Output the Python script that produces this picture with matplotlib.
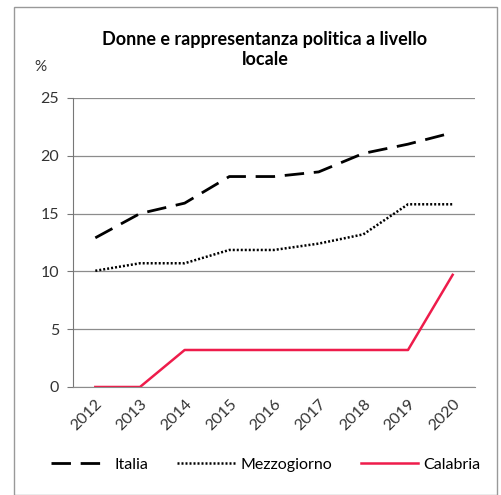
import matplotlib.pyplot as plt
from matplotlib.patches import Rectangle

anni = ['2012', '2013', '2014', '2015', '2016', '2017', '2018', '2019', '2020']
italia = [12.9, 15.0, 15.9, 18.2, 18.2, 18.6, 20.2, 21.0, 22.0]
mezzogiorno = [10.05, 10.7, 10.7, 11.85, 11.85, 12.4, 13.2, 15.8, 15.8]
calabria = [0.0, 0.0, 3.2, 3.2, 3.2, 3.2, 3.2, 3.2, 9.7]
y_ticks = [0, 5, 10, 15, 20, 25]

plt.rcParams['font.family'] = ['Lato', 'DejaVu Sans']

fig = plt.figure(figsize=(5.02, 4.95), dpi=100)
ax = fig.add_axes([0.1454, 0.2182, 0.8008, 0.584])

x = list(range(len(anni)))
l1, = ax.plot(x, italia, color='black', linewidth=2, dashes=(7, 3.5), label='Italia')
l2, = ax.plot(x, mezzogiorno, color='black', linewidth=1.8, dashes=(0.8, 0.8), label='Mezzogiorno')
l3, = ax.plot(x, calabria, color='#ee1c4b', linewidth=1.8, label='Calabria')

ax.set_xlim(-0.5, len(anni) - 0.5)
ax.set_ylim(0, 25)
ax.set_yticks(y_ticks)
ax.set_yticklabels([str(v) for v in y_ticks], fontsize=11.5, color='#333333')
ax.set_xticks(x)
ax.set_xticklabels(anni, rotation=45, ha='right', rotation_mode='anchor', fontsize=11.5, color='#333333')
ax.tick_params(axis='x', length=0, pad=7)
ax.tick_params(axis='y', length=4, color='#777777', pad=6)
ax.grid(axis='y', color='#8c8c8c', linewidth=0.9)
ax.set_axisbelow(True)
for s in ['top', 'right']:
    ax.spines[s].set_visible(False)
ax.spines['left'].set_color('#777777')
ax.spines['bottom'].set_color('#8c8c8c')

fig.text(0.528, 0.9, 'Donne e rappresentanza politica a livello\nlocale',
         ha='center', va='center', fontsize=13, fontweight='bold', linespacing=1.25)
fig.text(0.08, 0.864, '%', ha='center', va='center', fontsize=11, color='#333333')

fig.legend(handles=[l1, l2, l3], loc='center', bbox_to_anchor=(0.53, 0.061), ncol=3,
           frameon=False, fontsize=11.5, handlelength=3.6, columnspacing=1.8, handletextpad=0.35)

fig.patches.append(Rectangle((0.028, 0.0), 0.962, 0.985, transform=fig.transFigure,
                             fill=False, edgecolor='#999999', linewidth=1))

fig.savefig('out.png', dpi=100)
